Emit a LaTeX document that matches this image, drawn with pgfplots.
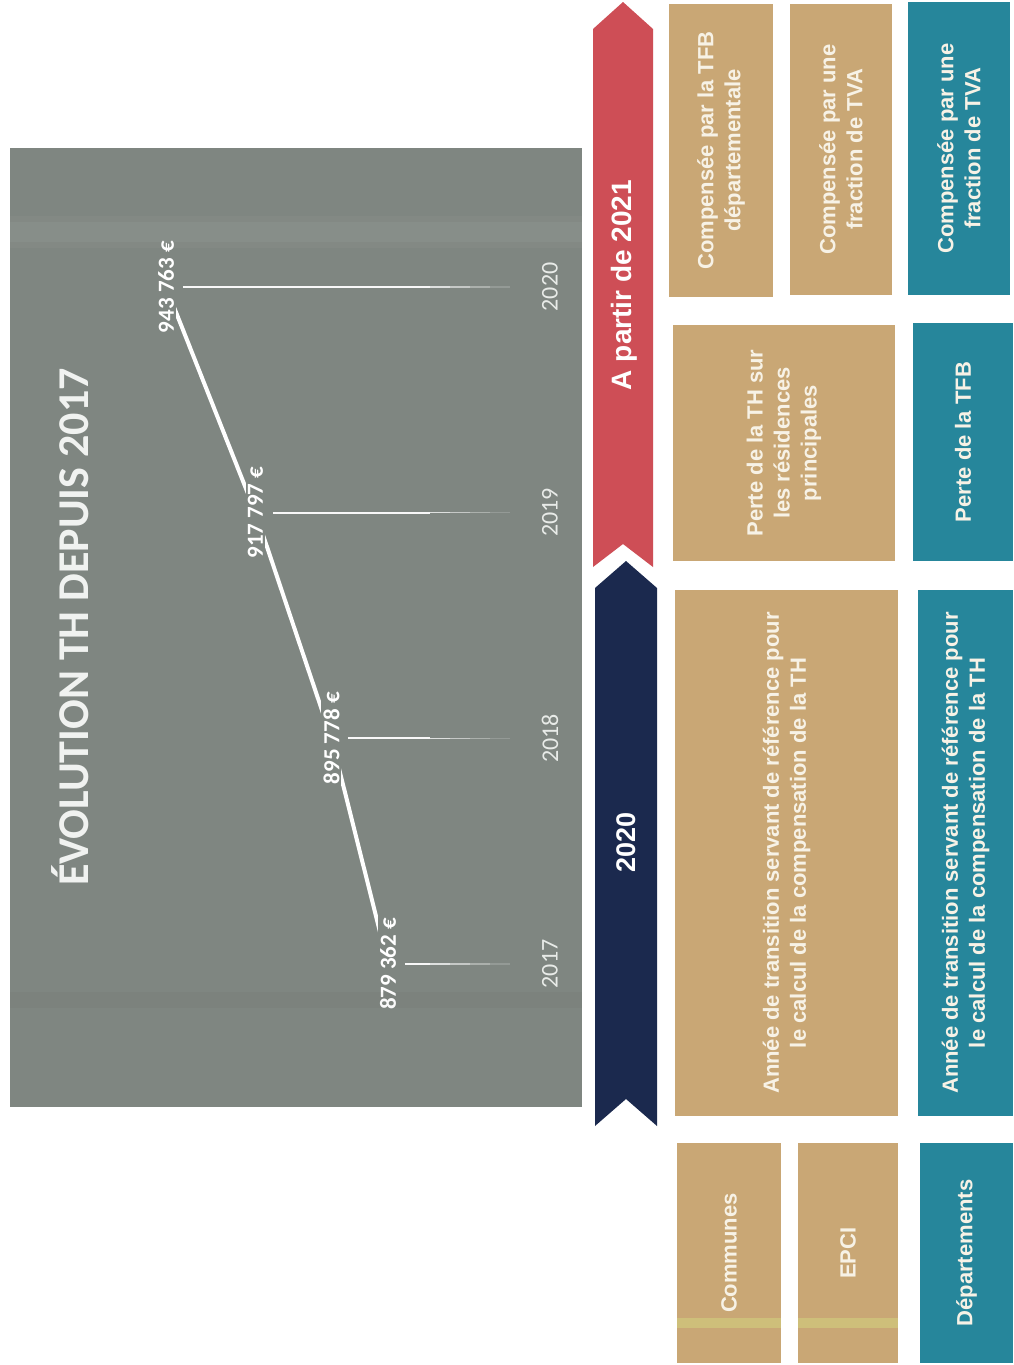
\documentclass[border=0pt]{standalone}
\usepackage{fontspec}
\setmainfont{Liberation Sans}
\newfontfamily\calibri{Carlito}
\usepackage{pgfplots}
\pgfplotsset{compat=1.18}
\definecolor{panel}{RGB}{127,134,129}
\definecolor{tan}{RGB}{201,167,117}
\definecolor{teal}{RGB}{38,134,155}
\definecolor{navy}{RGB}{27,41,78}
\definecolor{redar}{RGB}{206,78,86}
\definecolor{boxtext}{RGB}{247,242,230}
\definecolor{titlec}{RGB}{240,242,240}
\definecolor{yearc}{RGB}{232,235,232}
\begin{document}
\begin{tikzpicture}
\begin{scope}[x=1pt,y=1pt]
\useasboundingbox (0,0) rectangle (1013,-1365);
\fill[white] (0,0) rectangle (1013,-1365);
% chart panel
\fill[panel] (10,-148) rectangle (582,-1107);
\node[rotate=90, text=titlec, font=\calibri\bfseries\fontsize{44}{48}\selectfont] at (70,-627) {ÉVOLUTION TH DEPUIS 2017};
\end{scope}

\begin{axis}[at={(10pt,-148pt)}, anchor=north west, scale only axis,
  width=572pt, height=959pt, x dir=reverse,
  xmin=823085, xmax=989018, ymin=2016.366, ymax=2020.616,
  hide axis, clip=false, unbounded coords=jump]
% drop lines (fading)
\addplot[white, line width=1.7pt, opacity=0.95] coordinates {
  (874431,2017) (867179,2017) (nan,nan)
  (890966,2018) (867179,2018) (nan,nan)
  (912723,2019) (867179,2019) (nan,nan)
  (938832,2020) (867179,2020)};
\addplot[white, line width=1.6pt, opacity=0.75] coordinates {
  (867179,2017) (861377,2017) (nan,nan)
  (867179,2018) (861377,2018) (nan,nan)
  (867179,2019) (861377,2019) (nan,nan)
  (867179,2020) (861377,2020)};
\addplot[white, line width=1.5pt, opacity=0.55] coordinates {
  (861377,2017) (855575,2017) (nan,nan)
  (861377,2018) (855575,2018) (nan,nan)
  (861377,2019) (855575,2019) (nan,nan)
  (861377,2020) (855575,2020)};
\addplot[white, line width=1.4pt, opacity=0.35] coordinates {
  (855575,2017) (849774,2017) (nan,nan)
  (855575,2018) (849774,2018) (nan,nan)
  (855575,2019) (849774,2019) (nan,nan)
  (855575,2020) (849774,2020)};
\addplot[white, line width=1.3pt, opacity=0.17] coordinates {
  (849774,2017) (843971,2017) (nan,nan)
  (849774,2018) (843971,2018) (nan,nan)
  (849774,2019) (843971,2019) (nan,nan)
  (849774,2020) (843971,2020)};
% main line with value labels
\addplot[white, line width=4pt, mark=none, nodes near coords,
  point meta=explicit symbolic, nodes near coords align={center},
  every node near coord/.append style={anchor=center, rotate=90, fill=panel,
    inner xsep=7pt, inner ysep=2pt, text=white,
    font=\calibri\bfseries\fontsize{23}{26}\selectfont}]
  coordinates {
  (879362,2017) [879 362 €]
  (895778,2018) [895 778 €]
  (917797,2019) [917 797 €]
  (943763,2020) [943 763 €]};
% year labels
\addplot[draw=none, mark=none, nodes near coords,
  point meta=explicit symbolic, nodes near coords align={center},
  every node near coord/.append style={anchor=center, rotate=90,
    text=yearc, font=\calibri\fontsize{24}{28}\selectfont}]
  coordinates {
  (832368,2017) [2017]
  (832368,2018) [2018]
  (832368,2019) [2019]
  (832368,2020) [2020]};
\end{axis}

\begin{scope}[x=1pt,y=1pt]
% subtle scan bands over the panel
\fill[white,opacity=0.045] (10,-222) rectangle (582,-242);
\fill[white,opacity=0.03] (10,-216) rectangle (582,-248);
\fill[black,opacity=0.025] (10,-992) rectangle (582,-1008);
% arrows
\fill[redar] (593,-29) -- (623,-2) -- (653,-29) -- (653,-567) -- (623,-544) -- (593,-567) -- cycle;
\fill[navy] (595,-588) -- (626,-561) -- (657,-588) -- (657,-1126) -- (626,-1099) -- (595,-1126) -- cycle;
\node[rotate=90, text=white, font=\bfseries\fontsize{28}{32}\selectfont] at (624,-285) {A partir de 2021};
\node[rotate=90, text=white, font=\bfseries\fontsize{27}{32}\selectfont] at (626,-842) {2020};

% boxes
\tikzset{bt/.style={rotate=90, align=center, text=boxtext, font=\bfseries\fontsize{22}{27}\selectfont}}
\fill[tan] (669,-4) rectangle (773,-297);
\node[bt] at (721,-150.5) {Compensée par la TFB\\départementale};
\fill[tan] (790,-4) rectangle (892,-295);
\node[bt] at (841,-149.5) {Compensée par une\\fraction de TVA};
\fill[teal] (908,-2) rectangle (1010,-295);
\node[bt] at (959,-148.5) {Compensée par une\\fraction de TVA};

\fill[tan] (673,-325) rectangle (895,-561);
\node[bt] at (784,-443) {Perte de la TH sur\\les résidences\\principales};
\fill[teal] (913,-323) rectangle (1013,-561);
\node[bt] at (963,-442) {Perte de la TFB};

\fill[tan] (675,-590) rectangle (898,-1116);
\node[bt] at (786.5,-853) {Année de transition servant de référence pour\\le calcul de la compensation de la TH};
\fill[teal] (918,-590) rectangle (1013,-1116);
\node[bt] at (965.5,-853) {Année de transition servant de référence pour\\le calcul de la compensation de la TH};

\fill[tan] (677,-1143) rectangle (781,-1363);
\fill[tan] (798,-1143) rectangle (898,-1363);
\fill[teal] (920,-1143) rectangle (1013,-1363);
\fill[yellow!70!green!50!white, opacity=0.35] (677,-1318) rectangle (781,-1328);
\fill[yellow!70!green!50!white, opacity=0.35] (798,-1318) rectangle (898,-1328);
\node[bt] at (729,-1253) {Communes};
\node[bt] at (848,-1253) {EPCI};
\node[bt] at (966.5,-1253) {Départements};
\end{scope}
\end{tikzpicture}
\end{document}
